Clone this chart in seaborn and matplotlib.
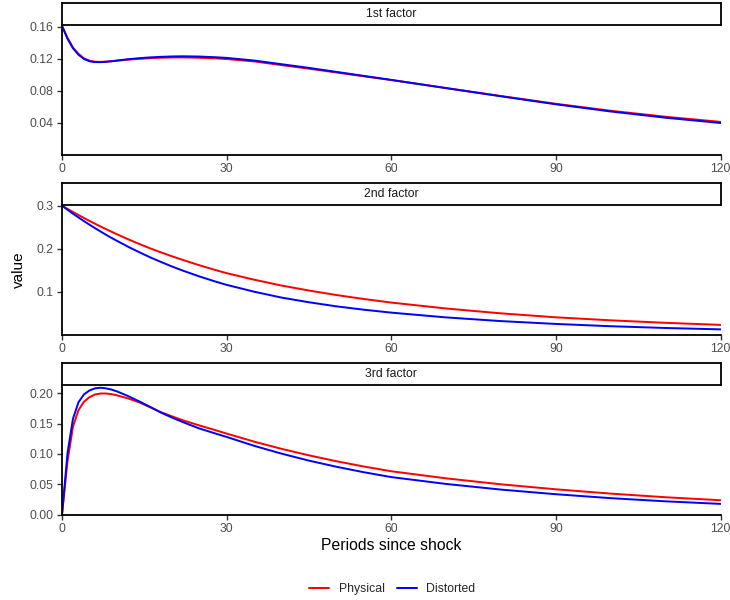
import matplotlib
matplotlib.use("Agg")
import matplotlib.pyplot as plt
from matplotlib.lines import Line2D
import numpy as np
import pandas as pd
import seaborn as sns

# Impulse responses of the three yield-curve factors, by period after the shock
periods = [0, 1, 2, 3, 4, 5, 6, 7, 8, 9, 10, 12, 14, 16, 18, 20, 22, 25, 28, 30,
           35, 40, 45, 50, 55, 60, 70, 80, 90, 100, 110, 120]

factor1_physical = [0.1610, 0.1460, 0.1340, 0.1260, 0.1205, 0.1175, 0.1162, 0.1160,
                    0.1163, 0.1168, 0.1175, 0.1188, 0.1198, 0.1206, 0.1212, 0.1215,
                    0.1216, 0.1212, 0.1204, 0.1196, 0.1166, 0.1120, 0.1075, 0.1028,
                    0.0980, 0.0933, 0.0833, 0.0733, 0.0636, 0.0549, 0.0474, 0.0410]
factor1_distorted = [0.1610, 0.1450, 0.1330, 0.1250, 0.1197, 0.1168, 0.1158, 0.1157,
                     0.1161, 0.1168, 0.1177, 0.1193, 0.1206, 0.1216, 0.1223, 0.1228,
                     0.1230, 0.1227, 0.1218, 0.1210, 0.1177, 0.1131, 0.1085, 0.1035,
                     0.0985, 0.0935, 0.0832, 0.0730, 0.0630, 0.0540, 0.0462, 0.0396]

factor2_physical = [0.3000, 0.2925, 0.2853, 0.2783, 0.2714, 0.2647, 0.2582, 0.2518,
                    0.2456, 0.2396, 0.2336, 0.2222, 0.2114, 0.2011, 0.1916, 0.1825,
                    0.1739, 0.1616, 0.1502, 0.1431, 0.1279, 0.1143, 0.1027, 0.0922,
                    0.0830, 0.0747, 0.0609, 0.0496, 0.0404, 0.0334, 0.0276, 0.0228]
factor2_distorted = [0.3000, 0.2906, 0.2814, 0.2727, 0.2642, 0.2559, 0.2479, 0.2401,
                     0.2326, 0.2253, 0.2183, 0.2048, 0.1922, 0.1803, 0.1693, 0.1588,
                     0.1491, 0.1356, 0.1234, 0.1159, 0.1000, 0.0863, 0.0754, 0.0659,
                     0.0581, 0.0513, 0.0402, 0.0316, 0.0250, 0.0197, 0.0156, 0.0124]

factor3_physical = [0.0000, 0.0880, 0.1450, 0.1720, 0.1860, 0.1935, 0.1978, 0.1995,
                    0.1995, 0.1985, 0.1965, 0.1915, 0.1852, 0.1770, 0.1688, 0.1620,
                    0.1555, 0.1470, 0.1390, 0.1335, 0.1203, 0.1084, 0.0977, 0.0880,
                    0.0793, 0.0715, 0.0598, 0.0500, 0.0418, 0.0347, 0.0287, 0.0238]
factor3_distorted = [0.0000, 0.1010, 0.1580, 0.1850, 0.1980, 0.2045, 0.2080, 0.2090,
                     0.2080, 0.2060, 0.2030, 0.1955, 0.1868, 0.1778, 0.1682, 0.1600,
                     0.1525, 0.1420, 0.1335, 0.1280, 0.1134, 0.1005, 0.0890, 0.0789,
                     0.0699, 0.0619, 0.0506, 0.0413, 0.0337, 0.0272, 0.0220, 0.0178]

factor_names = ["1st factor", "2nd factor", "3rd factor"]
series_names = ["Physical", "Distorted"]
series_colors = {"Physical": "#FF0000", "Distorted": "#0000FF"}

y_ticks = [[0.04, 0.08, 0.12, 0.16], [0.1, 0.2, 0.3], [0.00, 0.05, 0.10, 0.15, 0.20]]
y_ticklabels = [["0.04", "0.08", "0.12", "0.16"], ["0.1", "0.2", "0.3"],
                ["0.00", "0.05", "0.10", "0.15", "0.20"]]
y_limits = [(0, 0.1625), (0, 0.3023), (0, 0.2140)]
x_ticks = [0, 30, 60, 90, 120]

# Long-form table for seaborn
rows = []
series_by_factor = [
    (factor1_physical, factor1_distorted),
    (factor2_physical, factor2_distorted),
    (factor3_physical, factor3_distorted),
]
for fname, (phys, dist) in zip(factor_names, series_by_factor):
    for sname, vals in zip(series_names, (phys, dist)):
        for p, v in zip(periods, vals):
            rows.append({"factor": fname, "series": sname, "period": p, "value": v})
df = pd.DataFrame(rows)

sns.set_theme(style="ticks")
plt.rcParams["font.family"] = ["Liberation Sans", "DejaVu Sans"]

W, H = 730, 600
fig = plt.figure(figsize=(W / 100, H / 100), dpi=100)
fig.patch.set_facecolor("white")

left_px, right_px = 62.0, 720.7
strip_h_px, panel_h_px = 22.0, 130.0
strip_tops = [2.7, 182.7, 362.7]

for i, fname in enumerate(factor_names):
    top = strip_tops[i]
    panel_top = top + strip_h_px
    ax = fig.add_axes([left_px / W, 1 - (panel_top + panel_h_px) / H,
                       (right_px - left_px) / W, panel_h_px / H])
    sub = df[df["factor"] == fname]
    sns.lineplot(data=sub, x="period", y="value", hue="series",
                 hue_order=series_names, palette=series_colors,
                 estimator=None, linewidth=1.42, legend=False, ax=ax)
    ax.set_xlim(0, 120)
    ax.set_ylim(*y_limits[i])
    ax.set_xticks(x_ticks)
    ax.set_xticklabels([str(t) for t in x_ticks])
    ax.set_yticks(y_ticks[i])
    ax.set_yticklabels(y_ticklabels[i])
    ax.set_xlabel("")
    ax.set_ylabel("")
    ax.set_facecolor("white")
    ax.grid(False)
    for side in ("top", "right"):
        ax.spines[side].set_visible(False)
    for side in ("left", "bottom"):
        ax.spines[side].set_color("black")
        ax.spines[side].set_linewidth(1.3)
    ax.tick_params(axis="both", which="major", length=3.8, width=1.0,
                   color="#333333", labelsize=8.8, labelcolor="#4D4D4D", pad=2.2)

    # facet strip
    sax = fig.add_axes([left_px / W, 1 - panel_top / H,
                        (right_px - left_px) / W, strip_h_px / H])
    sax.set_xticks([])
    sax.set_yticks([])
    sax.set_facecolor("white")
    for side in sax.spines.values():
        side.set_color("black")
        side.set_linewidth(1.3)
    sax.text(0.5, 0.5, fname, ha="center", va="center", fontsize=8.8,
             color="#1A1A1A", transform=sax.transAxes)

fig.text(19 / W, 1 - 270 / H, "value", rotation=90, ha="center", va="center",
         fontsize=11, color="black")
fig.text(391 / W, 1 - 545 / H, "Periods since shock", ha="center", va="center",
         fontsize=11.3, color="black")

handles = [Line2D([], [], color=series_colors[s], linewidth=1.42) for s in series_names]
fig.legend(handles, series_names, loc="center", bbox_to_anchor=(392.5 / W, 1 - 589 / H),
           ncol=2, frameon=False, fontsize=8.8, handlelength=1.6,
           handletextpad=0.8, columnspacing=1.0)

fig.savefig("out.png", dpi=100, facecolor="white")
